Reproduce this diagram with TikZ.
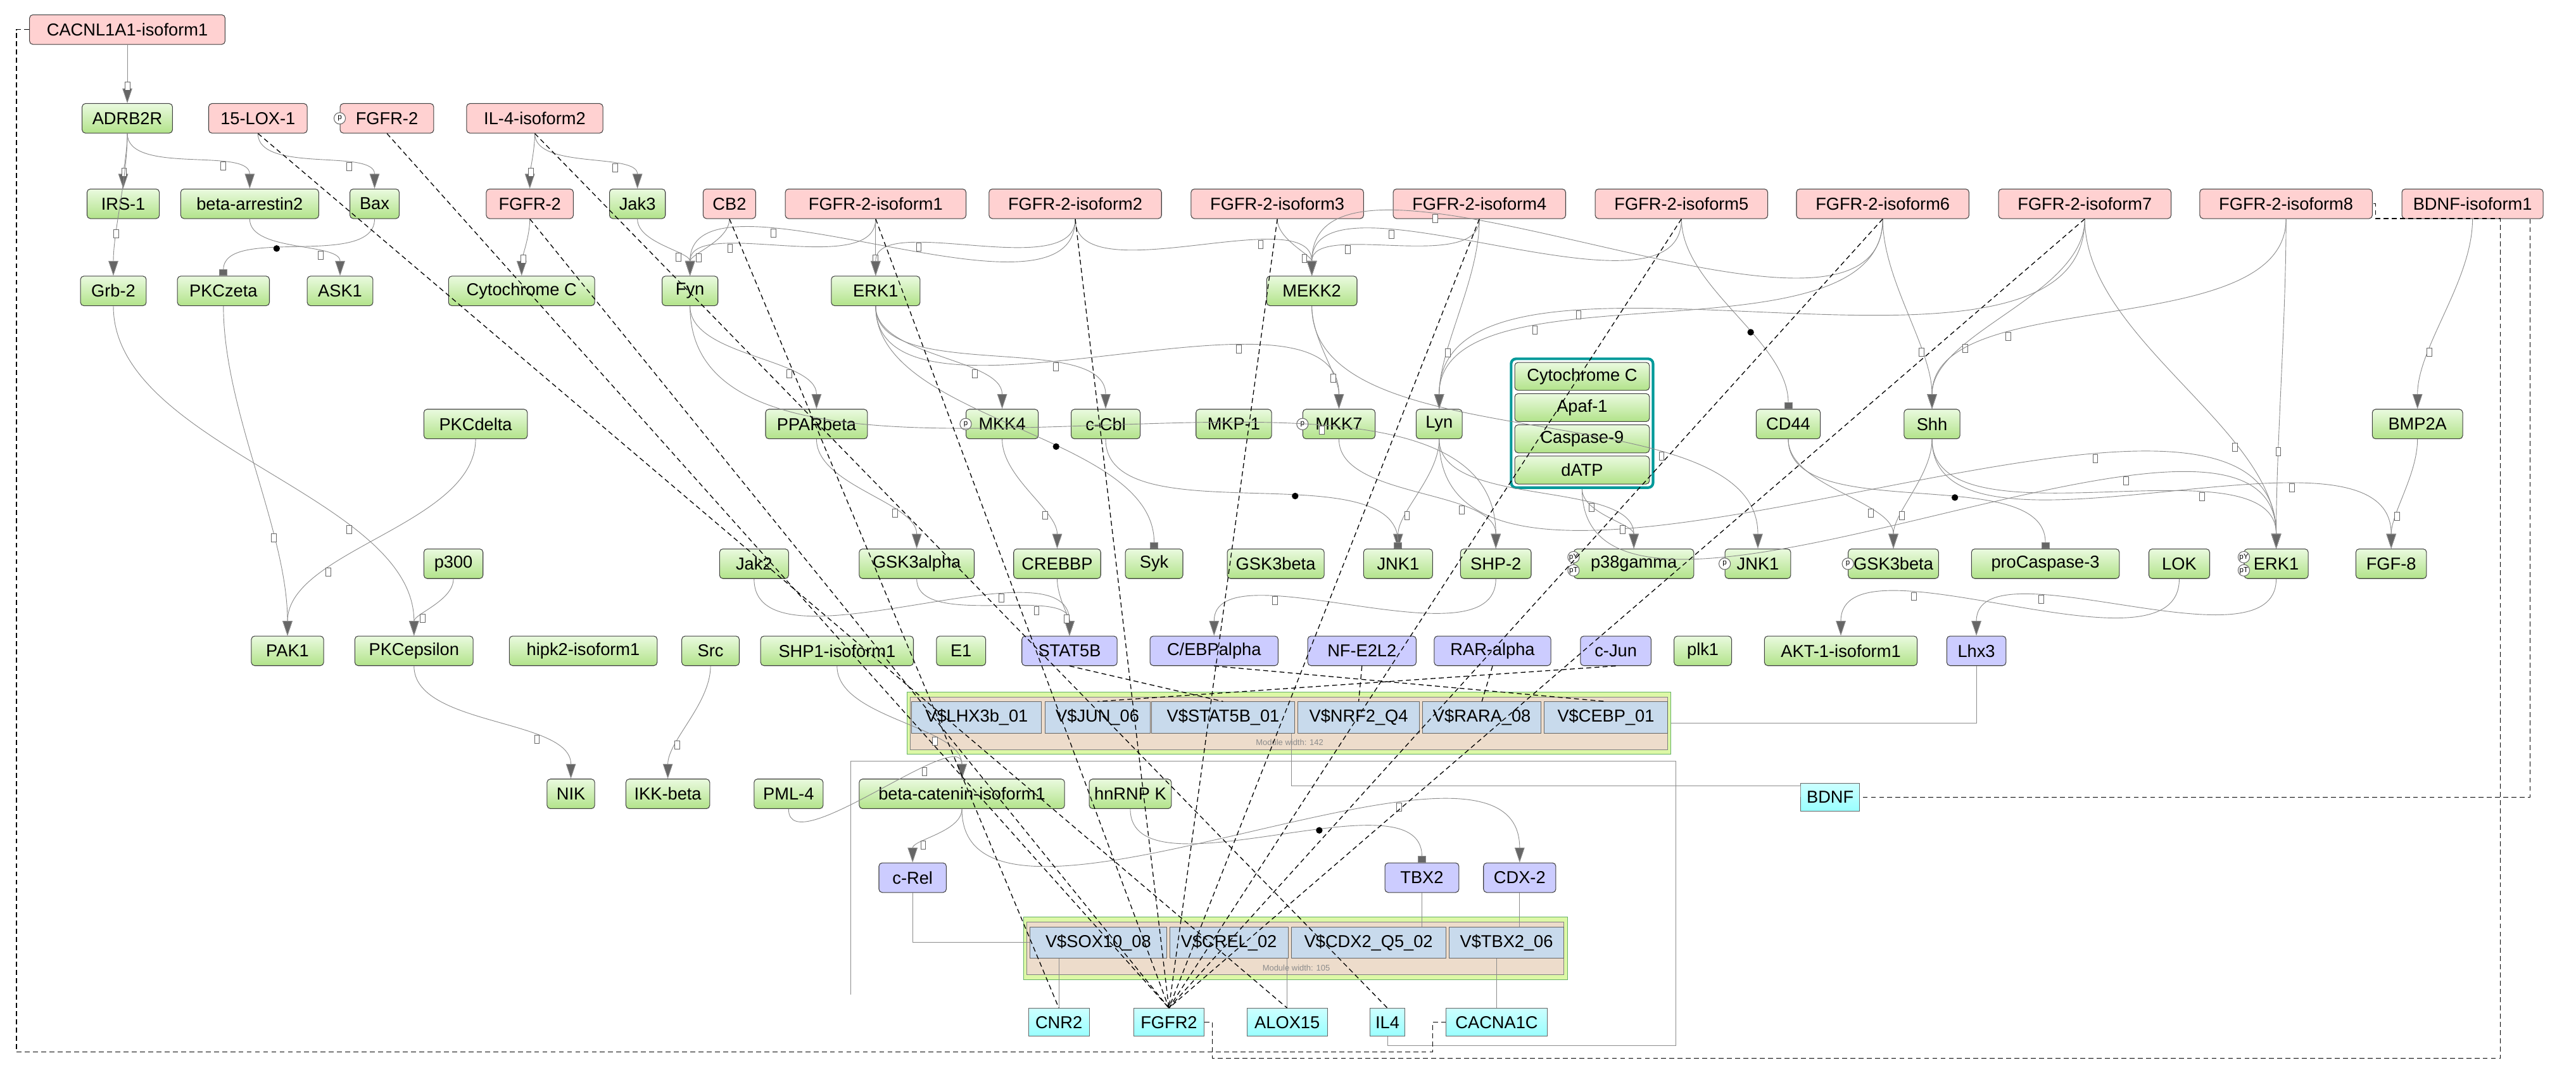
\documentclass[tikz,border=0pt]{standalone}
\usepackage{fontspec}
\setmainfont{Liberation Sans}
\usetikzlibrary{arrows.meta,positioning,fit}
\definecolor{gtop}{HTML}{EAFADF}
\definecolor{gbot}{HTML}{B2E38A}
\definecolor{cellc}{HTML}{C8DAEC}
\definecolor{modbg}{HTML}{EDDCCB}
\definecolor{modout}{HTML}{DDF8A6}
\begin{document}
\begin{tikzpicture}[x=1pt,y=-1pt,
 every node/.style={font=\fontsize{10.5}{12}\selectfont,inner sep=1pt},
 base/.style={rectangle,rounded corners=2pt,draw=black!75,line width=0.4pt,minimum height=18pt,anchor=center},
 g/.style={base,top color=gtop,bottom color=gbot},
 pk/.style={base,fill=red!18!white},
 pu/.style={base,fill=blue!20!white},
 cy/.style={rectangle,draw=black!60,line width=0.4pt,minimum height=17pt,top color=cyan!20!white,bottom color=cyan!40!white},
 cell/.style={rectangle,draw=black!60,fill=cellc,minimum height=19pt,anchor=center},
 ia/.style={draw=black!45,line width=0.35pt,-{Triangle[length=9pt,width=6pt,fill=black!60]}},
 inh/.style={draw=black!45,line width=0.35pt,-{Square[length=4pt,width=5pt,fill=black!60]}},
 dl/.style={draw=black,line width=0.5pt,dash pattern=on 3pt off 2pt},
 sq/.style={draw=black!60,fill=white,minimum width=3pt,minimum height=5pt,inner sep=0pt},
 ball/.style={circle,fill=black,inner sep=0pt,minimum size=4pt},
 pc/.style={circle,draw=black!60,fill=white,inner sep=0pt,minimum size=7pt,font=\fontsize{4.5}{5}\selectfont},
 cu/.style={out=-90,in=90,looseness=0.8}
]
\useasboundingbox (0,0) rectangle (1568,651);

\node[pk,minimum width=119] (cacn) at (77.5,18) {CACNL1A1-isoform1};
\node[g,minimum width=55] (adrb) at (77.5,72) {ADRB2R};
\node[pk,minimum width=60] (lox) at (157,72) {15-LOX-1};
\node[pk,minimum width=57] (fgfrA) at (235.5,72) {FGFR-2};
\node[pk,minimum width=83] (il4i) at (325.5,72) {IL-4-isoform2};
\node[g,minimum width=44] (irs) at (75,124) {IRS-1};
\node[g,minimum width=84] (barr) at (152,124) {beta-arrestin2};
\node[g,minimum width=30] (bax) at (228,124) {Bax};
\node[pk,minimum width=53] (fgfrB) at (322.5,124) {FGFR-2};
\node[g,minimum width=34] (jak3) at (388,124) {Jak3};
\node[pk,minimum width=32] (cb2) at (444,124) {CB2};
\node[pk,minimum width=110] (iso1) at (533,124) {FGFR-2-isoform1};
\node[pk,minimum width=105] (iso2) at (654.5,124) {FGFR-2-isoform2};
\node[pk,minimum width=105] (iso3) at (777.5,124) {FGFR-2-isoform3};
\node[pk,minimum width=105] (iso4) at (900.5,124) {FGFR-2-isoform4};
\node[pk,minimum width=105] (iso5) at (1023.5,124) {FGFR-2-isoform5};
\node[pk,minimum width=105] (iso6) at (1146,124) {FGFR-2-isoform6};
\node[pk,minimum width=105] (iso7) at (1269,124) {FGFR-2-isoform7};
\node[pk,minimum width=105] (iso8) at (1391.5,124) {FGFR-2-isoform8};
\node[pk,minimum width=86] (bdnfi) at (1505,124) {BDNF-isoform1};
\node[g,minimum width=40] (grb) at (69,177) {Grb-2};
\node[g,minimum width=56] (pkcz) at (136,177) {PKCzeta};
\node[g,minimum width=40] (ask) at (207,177) {ASK1};
\node[g,minimum width=89] (cytc) at (317.5,177) {Cytochrome C};
\node[g,minimum width=34] (fyn) at (420,177) {Fyn};
\node[g,minimum width=54] (erk1a) at (533,177) {ERK1};
\node[g,minimum width=55] (mekk2) at (798.5,177) {MEKK2};
\node[g,minimum width=63] (pkcd) at (289.5,258) {PKCdelta};
\node[g,minimum width=62] (ppar) at (497,258) {PPARbeta};
\node[g,minimum width=44] (mkk4) at (610,258) {MKK4};
\node[g,minimum width=42] (ccbl) at (673,258) {c-Cbl};
\node[g,minimum width=46] (mkp1) at (751,258) {MKP-1};
\node[g,minimum width=44] (mkk7) at (815,258) {MKK7};
\node[g,minimum width=28] (lyn) at (876,258) {Lyn};
\node[g,minimum width=39] (cd44) at (1088.5,258) {CD44};
\node[g,minimum width=34] (shh) at (1176,258) {Shh};
\node[g,minimum width=55] (bmp) at (1471.5,258) {BMP2A};
\node[g,minimum width=82,minimum height=17] (cx1) at (963,229) {Cytochrome C};
\node[g,minimum width=82,minimum height=17] (cx2) at (963,248) {Apaf-1};
\node[g,minimum width=82,minimum height=17] (cx3) at (963,267) {Caspase-9};
\node[g,minimum width=82,minimum height=17] (cx4) at (963,286) {dATP};
\node[draw=teal!80!cyan,line width=1.6pt,rounded corners=3pt,inner sep=2pt,fit=(cx1)(cx4)] (cx) {};
\node[g,minimum width=36] (p300) at (276,343) {p300};
\node[g,minimum width=42] (jak2) at (459,343) {Jak2};
\node[g,minimum width=70] (gsk3a) at (558,343) {GSK3alpha};
\node[g,minimum width=53] (crebbp) at (643.5,343) {CREBBP};
\node[g,minimum width=35] (syk) at (702.5,343) {Syk};
\node[g,minimum width=59] (gsk3b1) at (776.5,343) {GSK3beta};
\node[g,minimum width=42] (jnk1a) at (851,343) {JNK1};
\node[g,minimum width=43] (shp2) at (910.5,343) {SHP-2};
\node[g,minimum width=73] (p38) at (994.5,343) {p38gamma};
\node[g,minimum width=40] (jnk1b) at (1070,343) {JNK1};
\node[g,minimum width=55] (gsk3b2) at (1152.5,343) {GSK3beta};
\node[g,minimum width=90] (procasp) at (1245,343) {proCaspase-3};
\node[g,minimum width=37] (lok) at (1326.5,343) {LOK};
\node[g,minimum width=39] (erk1b) at (1385.5,343) {ERK1};
\node[g,minimum width=43] (fgf8) at (1455.5,343) {FGF-8};
\node[g,minimum width=44] (pak1) at (175,396) {PAK1};
\node[g,minimum width=72] (pkce) at (252,396) {PKCepsilon};
\node[g,minimum width=90] (hipk) at (355,396) {hipk2-isoform1};
\node[g,minimum width=35] (src) at (432.5,396) {Src};
\node[g,minimum width=93] (shp1) at (509.5,396) {SHP1-isoform1};
\node[g,minimum width=30] (e1) at (585,396) {E1};
\node[pu,minimum width=58] (stat5b) at (651,396) {STAT5B};
\node[pu,minimum width=78] (cebp) at (739,396) {C/EBPalpha};
\node[pu,minimum width=66] (nfe2) at (829,396) {NF-E2L2};
\node[pu,minimum width=71] (rar) at (908.5,396) {RAR-alpha};
\node[pu,minimum width=43] (cjun) at (983.5,396) {c-Jun};
\node[g,minimum width=35] (plk1) at (1036.5,396) {plk1};
\node[g,minimum width=93] (akt) at (1120.5,396) {AKT-1-isoform1};
\node[pu,minimum width=36] (lhx3) at (1203,396) {Lhx3};
\fill[modout,draw=green!50!black!60] (552,421) rectangle (1017,459);
\fill[modbg,draw=black!50] (554,424) rectangle (1015,456);
\node[cell,minimum width=79] (m1a) at (594.5,436.5) {V\$LHX3b\_01};
\node[cell,minimum width=64] (m1b) at (668,436.5) {V\$JUN\_06};
\node[cell,minimum width=87] (m1c) at (744.5,436.5) {V\$STAT5B\_01};
\node[cell,minimum width=74] (m1d) at (827,436.5) {V\$NRF2\_Q4};
\node[cell,minimum width=72] (m1e) at (902,436.5) {V\$RARA\_08};
\node[cell,minimum width=75] (m1f) at (977.5,436.5) {V\$CEBP\_01};
\node[font=\fontsize{5}{6}\selectfont,text=black!45] (m1l) at (785,451.5) {Module width: 142};
\coordinate (m1E) at (1017,440);
\node[g,minimum width=29] (nik) at (347.5,483) {NIK};
\node[g,minimum width=51] (ikk) at (406.5,483) {IKK-beta};
\node[g,minimum width=42] (pml) at (480,483) {PML-4};
\node[g,minimum width=125] (bcat) at (585.5,483) {beta-catenin-isoform1};
\node[g,minimum width=50] (hnrnp) at (688,483) {hnRNP K};
\node[cy,minimum width=36] (bdnf) at (1114,485) {BDNF};
\node[pu,minimum width=41] (crel) at (555.5,534) {c-Rel};
\node[pu,minimum width=45] (tbx2) at (865.5,534) {TBX2};
\node[pu,minimum width=44] (cdx2) at (925,534) {CDX-2};
\fill[modout,draw=green!50!black!60] (623,558) rectangle (954,596);
\fill[modbg,draw=black!50] (625,561) rectangle (952,593);
\node[cell,minimum width=83] (m2a) at (668.5,573.5) {V\$SOX10\_08};
\node[cell,minimum width=72] (m2b) at (748,573.5) {V\$CREL\_02};
\node[cell,minimum width=94] (m2c) at (833,573.5) {V\$CDX2\_Q5\_02};
\node[cell,minimum width=70] (m2d) at (917,573.5) {V\$TBX2\_06};
\node[font=\fontsize{5}{6}\selectfont,text=black!45] (m2l) at (789,589) {Module width: 105};
\node[cy,minimum width=37] (cnr2) at (644.5,622) {CNR2};
\node[cy,minimum width=43] (fgfr2g) at (711.5,622) {FGFR2};
\node[cy,minimum width=49] (alox) at (783.5,622) {ALOX15};
\node[cy,minimum width=21] (il4g) at (844.5,622) {IL4};
\node[cy,minimum width=62] (cacna) at (911,622) {CACNA1C};

\node[pc] (p1) at (fgfrA.west) {p};
\node[pc] (p2) at (mkk4.west) {p};
\node[pc] (p3) at (mkk7.west) {p};
\node[pc] (p4) at (jnk1b.west) {p};
\node[pc] (p5) at (gsk3b2.west) {p};
\node[pc] (p6) at ([yshift=-4]p38.west) {pT};
\node[pc] (p7) at ([yshift=4]p38.west) {pY};
\node[pc] (p8) at ([yshift=-4]erk1b.west) {pT};
\node[pc] (p9) at ([yshift=4]erk1b.west) {pY};

\foreach \a/\b in {cacn/adrb,adrb/irs,adrb/barr,adrb/grb,lox/bax,il4i/fgfrB,il4i/jak3,barr/ask,fgfrB/cytc,jak3/fyn,cb2/fyn,iso1/fyn,iso2/fyn,iso1/erk1a,iso2/erk1a,iso3/mekk2,iso4/mekk2,iso5/mekk2,iso6/mekk2,iso2/mekk2,erk1a/mkk4,erk1a/ccbl,fyn/ppar,erk1a/mkk7,iso6/lyn,iso7/lyn,iso4/lyn,iso7/shh,iso8/shh,iso6/shh,bdnfi/bmp,bmp/fgf8,shh/fgf8,ppar/gsk3a,mkk4/crebbp,mkk7/shp2,lyn/p38,cd44/gsk3b2,shh/gsk3b2,shh/erk1b,lyn/erk1b,cx/erk1b,iso8/erk1b,iso7/erk1b,mekk2/jnk1b,pkcd/pak1,pkcz/pak1,grb/pkce,gsk3a/stat5b,jak2/stat5b,crebbp/stat5b,shp2/cebp,lok/akt,erk1b/lhx3,pkce/nik,src/ikk,shp1/bcat,pml/bcat,bcat/crel,bcat/cdx2,lyn/jnk1a,p300/pkce,mekk2/mkk7,fyn/shp2,cx/p38}
  \draw[ia] (\a.south) to[cu] node[sq,pos=.7]{} (\b.north);
\foreach \a/\b in {bax/pkcz,hnrnp/tbx2,ccbl/jnk1a,iso5/cd44,cd44/procasp,erk1a/syk}
  \draw[inh] (\a.south) to[cu] node[ball,pos=.6]{} (\b.north);

\draw[black!45,line width=0.35pt] (lhx3.south) |- (m1E);
\draw[black!45,line width=0.35pt] (crel.south) |- (m2a.west);
\draw[black!45,line width=0.35pt] (tbx2.south) -- (m2d.north -| tbx2.south);
\draw[black!45,line width=0.35pt] (cdx2.south) -- (m2d.north -| cdx2.south);
\coordinate (r1) at (786,463); \coordinate (r2) at (786,478);
\draw[black!45,line width=0.35pt] (m1c.south -| r1) -- (r2) -- (bdnf.west |- r2) -- (bdnf.west);
\coordinate (q1) at (518,463); \coordinate (q2) at (1020,463); \coordinate (q3) at (1020,636); \coordinate (q4) at (518,605);
\draw[black!45,line width=0.35pt] (q4) -- (q1) -- (q2) -- (q3) -- (il4g.south |- q3) -- (il4g.south);
\draw[black!45,line width=0.35pt] (cnr2.north) -- (cnr2.north |- m2a.south);
\draw[black!45,line width=0.35pt] (alox.north) -- (alox.north |- m2c.south);
\draw[black!45,line width=0.35pt] (cacna.north) -- (cacna.north |- m2d.south);

\foreach \a/\b in {lox/alox,fgfrA/fgfr2g,fgfrB/fgfr2g,il4i/il4g,cb2/cnr2,iso1/fgfr2g,iso2/fgfr2g,iso3/fgfr2g,iso4/fgfr2g,iso5/fgfr2g,iso6/fgfr2g,iso7/fgfr2g,
 stat5b/m1c,cebp/m1f,nfe2/m1d,rar/m1e,cjun/m1b}
  \draw[dl] (\a.south) -- (\b.north);
\coordinate (l1) at (10,18); \coordinate (l2) at (10,640); \coordinate (l3) at (872,640);
\draw[dl] (cacn.west) -- (l1) -- (l2) -- (l3) -- (l3 |- cacna.west) -- (cacna.west);
\coordinate (f1) at (738,644); \coordinate (f2) at (1522,644); \coordinate (f3) at (1522,133); \coordinate (f4) at (1446,133);
\draw[dl] (fgfr2g.east) -| (f1) -- (f2) -- (f3) -- (f4) -- (f4 |- iso8.east) -- (iso8.east);
\coordinate (b1) at (1540,136);
\draw[dl] (bdnfi.south -| b1) -- (b1 |- bdnf.east) -- (bdnf.east);
\end{tikzpicture}
\end{document}
